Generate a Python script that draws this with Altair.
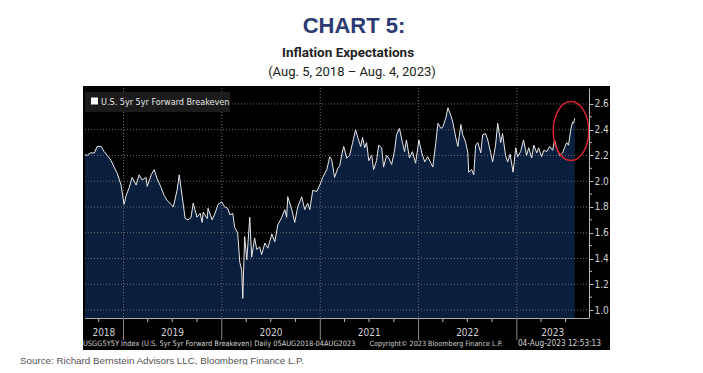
import altair as alt
import pandas as pd

# ---- data (U.S. 5y5y forward breakeven, %) ----
dates = [
    "2018-08-06", "2018-08-19", "2018-08-31", "2018-09-15", "2018-09-25", "2018-10-10", "2018-10-21",
    "2018-11-02", "2018-11-16", "2018-11-27", "2018-12-09", "2018-12-23", "2019-01-03", "2019-01-11",
    "2019-01-22", "2019-02-02", "2019-02-17", "2019-02-28", "2019-03-11", "2019-03-26", "2019-03-30",
    "2019-04-14", "2019-04-25", "2019-05-06", "2019-05-21", "2019-06-01", "2019-06-12", "2019-06-27",
    "2019-07-05", "2019-07-19", "2019-07-27", "2019-08-07", "2019-08-18", "2019-08-29", "2019-09-09",
    "2019-09-17", "2019-10-01", "2019-10-13", "2019-10-20", "2019-10-24", "2019-11-08", "2019-11-11",
    "2019-11-26", "2019-12-07", "2019-12-18", "2020-01-01", "2020-01-12", "2020-01-23", "2020-01-31",
    "2020-02-11", "2020-02-18", "2020-02-29", "2020-03-08", "2020-03-15", "2020-03-19", "2020-03-26",
    "2020-04-03", "2020-04-14", "2020-04-21", "2020-05-02", "2020-05-10", "2020-05-21", "2020-05-28",
    "2020-06-09", "2020-06-20", "2020-07-05", "2020-07-16", "2020-07-27", "2020-08-11", "2020-08-22",
    "2020-08-29", "2020-09-02", "2020-09-17", "2020-09-28", "2020-10-09", "2020-10-24", "2020-11-04",
    "2020-11-15", "2020-11-23", "2020-12-04", "2020-12-19", "2020-12-30", "2021-01-10", "2021-01-25",
    "2021-02-05", "2021-02-12", "2021-02-23", "2021-03-07", "2021-03-14", "2021-03-23", "2021-03-29",
    "2021-04-09", "2021-04-20", "2021-05-01", "2021-05-12", "2021-05-20", "2021-05-31", "2021-06-07",
    "2021-06-15", "2021-06-22", "2021-06-30", "2021-07-11", "2021-07-18", "2021-07-29", "2021-08-06",
    "2021-08-17", "2021-08-24", "2021-09-04", "2021-09-12", "2021-09-23", "2021-10-04", "2021-10-11",
    "2021-10-22", "2021-11-02", "2021-11-10", "2021-11-17", "2021-11-28", "2021-12-09", "2021-12-21",
    "2022-01-02", "2022-01-13", "2022-01-24", "2022-02-04", "2022-02-16", "2022-02-23", "2022-03-06",
    "2022-03-14", "2022-03-25", "2022-04-01", "2022-04-12", "2022-04-20", "2022-05-01", "2022-05-08",
    "2022-05-19", "2022-05-27", "2022-06-07", "2022-06-14", "2022-06-25", "2022-07-03", "2022-07-06",
    "2022-07-17", "2022-07-25", "2022-08-01", "2022-08-09", "2022-08-20", "2022-08-27", "2022-09-07",
    "2022-09-15", "2022-09-26", "2022-10-03", "2022-10-14", "2022-10-22", "2022-11-02", "2022-11-09",
    "2022-11-20", "2022-11-28", "2022-12-07", "2022-12-18", "2022-12-28", "2023-01-04", "2023-01-15",
    "2023-01-26", "2023-02-06", "2023-02-14", "2023-02-25", "2023-03-05", "2023-03-16", "2023-03-23",
    "2023-04-03", "2023-04-11", "2023-04-22", "2023-05-03", "2023-05-14", "2023-05-21", "2023-05-29",
    "2023-06-09", "2023-06-20", "2023-06-27", "2023-07-05", "2023-07-12", "2023-07-20", "2023-07-27",
    "2023-07-31", "2023-08-04",
]
values = [
    2.21, 2.20, 2.22, 2.22, 2.27, 2.27, 2.23,
    2.20, 2.16, 2.11, 2.06, 1.97, 1.82, 1.89,
    1.95, 2.03, 1.97, 2.05, 2.01, 2.03, 1.96,
    2.05, 2.09, 2.02, 1.95, 1.89, 1.85, 1.82,
    1.80, 1.93, 2.05, 1.88, 1.71, 1.70, 1.72,
    1.83, 1.72, 1.75, 1.68, 1.76, 1.71, 1.79,
    1.70, 1.75, 1.82, 1.84, 1.80, 1.79, 1.74,
    1.75, 1.64, 1.60, 1.37, 1.31, 1.09, 1.57,
    1.39, 1.72, 1.41, 1.56, 1.47, 1.49, 1.43,
    1.52, 1.48, 1.59, 1.53, 1.66, 1.72, 1.78,
    1.72, 1.88, 1.78, 1.68, 1.80, 1.88, 1.78,
    1.83, 1.78, 1.93, 1.92, 1.97, 2.03, 2.09,
    2.19, 2.17, 2.03, 2.10, 2.12, 2.22, 2.27,
    2.18, 2.20, 2.30, 2.40, 2.34, 2.27, 2.34,
    2.26, 2.30, 2.16, 2.20, 2.09, 2.16, 2.28,
    2.26, 2.11, 2.20, 2.18, 2.13, 2.24, 2.36,
    2.41, 2.30, 2.23, 2.32, 2.18, 2.23, 2.14,
    2.32, 2.22, 2.15, 2.19, 2.14, 2.11, 2.30,
    2.45, 2.41, 2.42, 2.49, 2.57, 2.51, 2.46,
    2.34, 2.27, 2.44, 2.36, 2.30, 2.22, 2.07,
    2.09, 2.05, 2.28, 2.30, 2.22, 2.36, 2.37,
    2.32, 2.22, 2.15, 2.28, 2.45, 2.30, 2.37,
    2.20, 2.15, 2.21, 2.07, 2.26, 2.19, 2.23,
    2.32, 2.20, 2.26, 2.18, 2.28, 2.22, 2.26,
    2.19, 2.24, 2.23, 2.27, 2.24, 2.32, 2.26,
    2.20, 2.22, 2.26, 2.30, 2.28, 2.40, 2.46,
    2.45, 2.49,
]

y_ticks = [1.0, 1.2, 1.4, 1.6, 1.8, 2.0, 2.2, 2.4, 2.6]
y_minor = [1.1, 1.3, 1.5, 1.7, 1.9, 2.1, 2.3, 2.5]
year_starts = ["2019-01-01", "2020-01-01", "2021-01-01", "2022-01-01", "2023-01-01"]
quarter_ticks = [
    "2018-10-01", "2019-04-01", "2019-07-01", "2019-10-01", "2020-04-01", "2020-07-01", "2020-10-01",
    "2021-04-01", "2021-07-01", "2021-10-01", "2022-04-01", "2022-07-01", "2022-10-01",
    "2023-04-01", "2023-07-01",
]
year_labels = ["2018", "2019", "2020", "2021", "2022", "2023"]
year_label_dates = ["2018-10-20", "2019-07-02", "2020-07-02", "2021-07-02", "2022-07-02", "2023-05-14"]

highlight_date = ["2023-07-21"]
highlight_value = [2.39]

legend_label = "U.S. 5yr 5yr Forward Breakeven"
footer_left = "USGG5Y5Y Index (U.S. 5yr 5yr Forward Breakeven)  Daily 05AUG2018-04AUG2023"
footer_mid = "Copyright\u00a9 2023 Bloomberg Finance L.P."
footer_right = "04-Aug-2023 12:53:13"
title_1 = "CHART 5:"
title_2 = "Inflation Expectations"
title_3 = "(Aug. 5, 2018 \u2013 Aug. 4, 2023)"
source = "Source: Richard Bernstein Advisors LLC, Bloomberg Finance L.P."

# ---- layout / style ----
W, H = 504, 230
YMIN, YMAX = 0.938, 2.724
NAVY = "#0a1f3d"
COND = "DejaVu Sans Condensed, DejaVu Sans"

df = pd.DataFrame({"date": dates, "value": values, "base": [YMIN] * len(values)})
one = pd.DataFrame({"a": [0]})

xscale = alt.Scale(domain=[alt.DateTime(year=2018, month=8, date=11),
                           alt.DateTime(year=2023, month=9, date=26)])
yscale = alt.Scale(domain=[YMIN, YMAX], zero=False, nice=False)
yaxis = alt.Axis(orient="right", values=y_ticks, format=".1f", grid=False, title=None,
                 labelColor="#d2d2d2", labelFont=COND, labelFontSize=10,
                 tickColor="#bbbbbb", tickSize=4, labelPadding=1,
                 domainColor="#bbbbbb", zindex=1)

X = lambda f: alt.X(f, type="temporal", scale=xscale, axis=None, title=None)
Yn = lambda f: alt.Y(f, type="quantitative", scale=yscale, axis=yaxis, title=None)

bg = alt.Chart(one).mark_rect(color="#000000").encode(
    x=alt.value(-2), x2=alt.value(525), y=alt.value(-2), y2=alt.value(262))

area = alt.Chart(df).mark_area(color=NAVY, clip=True).encode(
    x=X("date"), y=Yn("value"), y2="base:Q")

hgrid = alt.Chart(pd.DataFrame({"value": y_ticks})).mark_rule(
    color="#6a6a6a", strokeDash=[1, 2], strokeWidth=1).encode(
    y=Yn("value"), x=alt.value(0), x2=alt.value(W))

vgrid = alt.Chart(pd.DataFrame({"d": year_starts})).mark_rule(
    color="#6a6a6a", strokeDash=[1, 2], strokeWidth=1).encode(
    x=X("d"), y=alt.value(0), y2=alt.value(H))

line = alt.Chart(df).mark_line(color="#e8e8e8", strokeWidth=1, clip=True).encode(
    x=X("date"), y=Yn("value"))

leg_box = alt.Chart(one).mark_rect(color="#1b1b1b").encode(
    x=alt.value(0), x2=alt.value(145), y=alt.value(4), y2=alt.value(24))
leg_sq = alt.Chart(one).mark_square(color="#ffffff", opacity=1, size=49).encode(
    x=alt.value(9.5), y=alt.value(13))
leg_txt = alt.Chart(one).mark_text(
    text=legend_label, align="left", baseline="middle", font=COND, fontSize=9,
    color="#e6e6e6").encode(x=alt.value(16), y=alt.value(13.5))

ellipse_path = ("M 0 -1 C 0.331 -1 0.6 -0.552 0.6 0 C 0.6 0.552 0.331 1 0 1 "
                "C -0.331 1 -0.6 0.552 -0.6 0 C -0.6 -0.552 -0.331 -1 0 -1 Z")
ellipse = alt.Chart(pd.DataFrame({"d": highlight_date, "value": highlight_value})).mark_point(
    shape=ellipse_path, size=3500, filled=False, color="#d8232f", strokeWidth=1.5,
    opacity=1).encode(x=X("d"), y=Yn("value"))

axis_line = alt.Chart(one).mark_rule(color="#a8a8a8", strokeWidth=1).encode(
    y=alt.value(230.5), x=alt.value(0), x2=alt.value(W))

year_div = alt.Chart(pd.DataFrame({"d": year_starts})).mark_rule(
    color="#8a8a8a", strokeWidth=1).encode(x=X("d"), y=alt.value(230), y2=alt.value(252))

qticks = alt.Chart(pd.DataFrame({"d": quarter_ticks})).mark_rule(
    color="#bbbbbb", strokeWidth=1).encode(x=X("d"), y=alt.value(231), y2=alt.value(234))

yminor = alt.Chart(pd.DataFrame({"value": y_minor})).mark_rule(
    color="#bbbbbb", strokeWidth=1).encode(y=Yn("value"), x=alt.value(W), x2=alt.value(W + 3))

ylab = alt.Chart(pd.DataFrame({"d": year_label_dates, "t": year_labels})).mark_text(
    font=COND, fontSize=10, color="#d2d2d2", baseline="middle", align="center").encode(
    x=X("d"), y=alt.value(245), text="t:N")

f1 = alt.Chart(one).mark_text(text=footer_left, align="left", baseline="middle",
                               font=COND, fontSize=7.4, color="#d2d2d2").encode(
    x=alt.value(-2), y=alt.value(256))
f2 = alt.Chart(one).mark_text(text=footer_mid, align="center", baseline="middle",
                               font=COND, fontSize=7.2, color="#d2d2d2").encode(
    x=alt.value(351), y=alt.value(256))
f3 = alt.Chart(one).mark_text(text=footer_right, align="right", baseline="middle",
                               font=COND, fontSize=8.2, color="#d2d2d2").encode(
    x=alt.value(516), y=alt.value(256))

t1 = alt.Chart(one).mark_text(text=title_1, align="center", baseline="alphabetic",
                               font="Liberation Sans", fontWeight="bold", fontSize=22,
                               color="#2b3a73").encode(x=alt.value(269), y=alt.value(-55))
t2 = alt.Chart(one).mark_text(text=title_2, align="center", baseline="alphabetic",
                               font="Roboto", fontWeight="bold", fontSize=13.5,
                               color="#222222").encode(x=alt.value(263), y=alt.value(-31))
t3 = alt.Chart(one).mark_text(text=title_3, align="center", baseline="alphabetic",
                               font="Roboto", fontSize=13,
                               color="#222222").encode(x=alt.value(267), y=alt.value(-12))
src = alt.Chart(one).mark_text(text=source, align="left", baseline="alphabetic",
                                font="Liberation Sans", fontSize=9.8,
                                color="#555555").encode(x=alt.value(-65), y=alt.value(276))

chart = alt.layer(
    bg, area, hgrid, vgrid, line, leg_box, leg_sq, leg_txt, ellipse,
    axis_line, year_div, qticks, yminor, ylab, f1, f2, f3, t1, t2, t3, src,
).properties(
    width=W, height=H,
    autosize=alt.AutoSizeParams(type="none"),
    padding={"left": 77, "top": 80, "right": 106, "bottom": 47},
    background="white",
).configure_view(stroke=None)

chart.save("out.html", embed_options={"renderer": "svg", "actions": False})
